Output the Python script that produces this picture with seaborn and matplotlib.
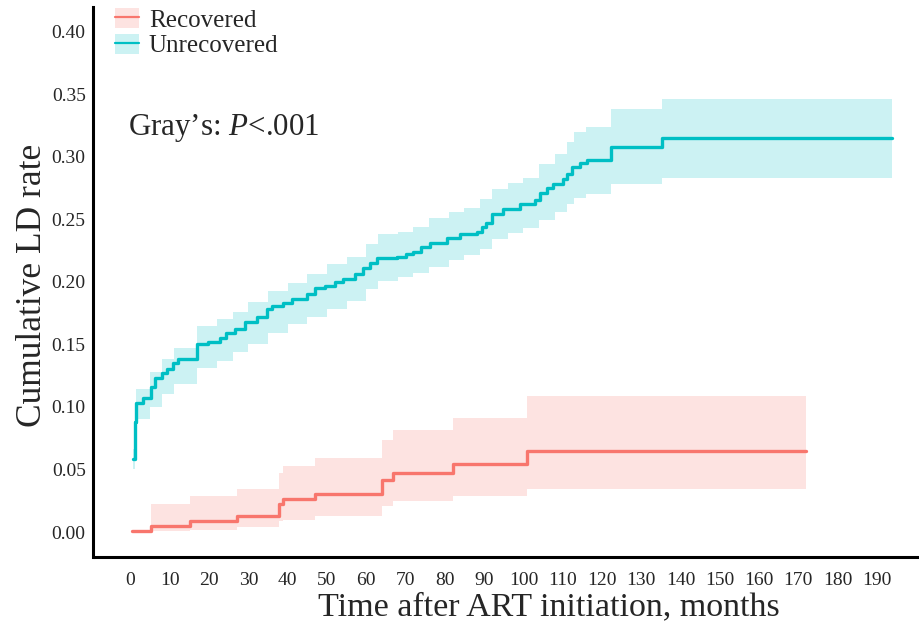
import matplotlib.pyplot as plt
import matplotlib as mpl
from matplotlib.patches import Patch
from matplotlib.lines import Line2D
import pandas as pd
import numpy as np
import seaborn as sns

# cumulative incidence, recovered group
rec_time = [0.25, 5.1, 15.1, 27.0, 37.8, 38.7, 46.9, 63.9, 66.9, 82.0, 101.0, 172.0]
rec_rate = [0.001, 0.005, 0.009, 0.013, 0.0226, 0.0264, 0.0306, 0.0418, 0.0475, 0.054, 0.0645, 0.0645]
rec_lo = [0.001, 0.0005, 0.0018, 0.004, 0.0085, 0.0098, 0.013, 0.0205, 0.0245, 0.0285, 0.0344, 0.0344]
rec_hi = [0.001, 0.0226, 0.0285, 0.0344, 0.047, 0.053, 0.0592, 0.0738, 0.0812, 0.0911, 0.1084, 0.1084]

# cumulative incidence, unrecovered group
unr_time = [0.7, 1.0, 1.5, 3.2, 5.3, 6.2, 7.9, 9.2, 10.9, 12.1, 16.8, 19.8, 22.7, 24.4,
            26.6, 29.1, 32.1, 34.6, 35.9, 38.9, 41.0, 44.8, 47.0, 49.5, 52.0, 54.1,
            57.0, 59.2, 61.0, 62.6, 67.7, 70.0, 71.9, 74.0, 76.2, 80.5, 83.8, 88.1,
            89.5, 90.6, 91.9, 94.9, 99.1, 102.9, 104.2, 106.0, 107.6, 110.1, 111.0,
            112.3, 114.4, 116.1, 122.4, 135.2, 193.7]
unr_rate = [0.058, 0.088, 0.103, 0.107, 0.116, 0.123, 0.127, 0.130, 0.135, 0.138, 0.150,
            0.152, 0.155, 0.159, 0.162, 0.168, 0.172, 0.178, 0.181, 0.183, 0.186, 0.190,
            0.195, 0.197, 0.200, 0.202, 0.206, 0.211, 0.215, 0.219, 0.220, 0.222, 0.224,
            0.228, 0.231, 0.235, 0.238, 0.240, 0.244, 0.247, 0.254, 0.258, 0.262, 0.265,
            0.271, 0.275, 0.278, 0.282, 0.286, 0.292, 0.295, 0.297, 0.308, 0.315, 0.315]
unr_band_time = [0.7, 1.0, 1.5, 5.0, 8.0, 11.0, 16.8, 22.0, 26.0, 30.0, 35.0, 40.0, 45.0,
                 50.0, 55.0, 60.0, 63.0, 68.0, 72.0, 76.0, 81.0, 85.0, 89.0, 92.0, 96.0,
                 100.0, 104.0, 108.0, 111.0, 113.0, 116.0, 122.4, 135.2, 193.7]
unr_lo = [0.050, 0.076, 0.090, 0.100, 0.110, 0.118, 0.131, 0.137, 0.144, 0.150, 0.159,
          0.166, 0.172, 0.178, 0.185, 0.194, 0.201, 0.204, 0.207, 0.212, 0.217, 0.221,
          0.226, 0.234, 0.239, 0.243, 0.249, 0.256, 0.262, 0.267, 0.270, 0.278, 0.283, 0.283]
unr_hi = [0.066, 0.100, 0.114, 0.128, 0.138, 0.147, 0.165, 0.170, 0.176, 0.184, 0.193,
          0.199, 0.206, 0.214, 0.220, 0.230, 0.238, 0.240, 0.244, 0.251, 0.256, 0.259,
          0.266, 0.274, 0.279, 0.283, 0.294, 0.302, 0.312, 0.320, 0.324, 0.338, 0.346, 0.346]

groups = ['Recovered', 'Unrecovered']
colors = {'Recovered': '#F8766D', 'Unrecovered': '#00BFC4'}
x_ticks = list(range(0, 200, 10))
y_ticks = [0.0, 0.05, 0.10, 0.15, 0.20, 0.25, 0.30, 0.35, 0.40]

df = pd.concat([
    pd.DataFrame({'time': rec_time, 'rate': rec_rate, 'group': 'Recovered'}),
    pd.DataFrame({'time': unr_time, 'rate': unr_rate, 'group': 'Unrecovered'}),
])

sns.set_style('white')
plt.rcParams['font.family'] = ['Liberation Serif', 'DejaVu Serif']
plt.rcParams['mathtext.fontset'] = 'custom'
plt.rcParams['mathtext.it'] = 'Liberation Serif:italic'
plt.rcParams['mathtext.rm'] = 'Liberation Serif'

fig = plt.figure(figsize=(9.19, 6.28), dpi=100)
ax = fig.add_axes([0.1015, 0.1135, 0.8985, 0.8755])

ax.fill_between(rec_time, rec_lo, rec_hi, step='post', color=colors['Recovered'], alpha=0.2, lw=0)
ax.fill_between(unr_band_time, unr_lo, unr_hi, step='post', color=colors['Unrecovered'], alpha=0.2, lw=0)
sns.lineplot(data=df, x='time', y='rate', hue='group', palette=colors, estimator=None,
             drawstyle='steps-post', linewidth=2.4, legend=False, ax=ax)

ax.set_xlim(-9.5, 200.7)
ax.set_ylim(-0.0197, 0.4196)
ax.set_xticks(x_ticks)
ax.set_yticks(y_ticks)
ax.set_yticklabels(['%.2f' % v for v in y_ticks])

for s in ['top', 'right']:
    ax.spines[s].set_visible(False)
ax.spines['left'].set_linewidth(2.2)
ax.spines['left'].set_color('black')
# ticks sit a little below the axis line
ax.spines['bottom'].set_position(('outward', 2.5))
ax.spines['bottom'].set_visible(False)
ax.plot([0, 1], [0, 0], transform=ax.transAxes, color='black', lw=2.2, clip_on=False,
        solid_capstyle='butt')

ax.tick_params(axis='y', direction='out', length=4.5, width=1.6, color='black', labelsize=14, pad=1)
ax.tick_params(axis='x', direction='out', length=4.5, width=1.6, color='black', labelsize=14, pad=4)

ax.set_xlabel('Time after ART initiation, months', fontsize=24.5)
ax.xaxis.set_label_coords(0.552, -0.0915)
ax.xaxis.label.set_va('center')
ax.set_ylabel('Cumulative LD rate', fontsize=25.5)
ax.yaxis.set_label_coords(-0.074, 0.493)
ax.yaxis.label.set_va('center')

ax.text(-0.7, 0.323, 'Gray\u2019s: $\\mathit{P}$<.001', fontsize=22.3, va='center', ha='left')

handles = [(Patch(facecolor=colors[g], alpha=0.2, lw=0), Line2D([], [], color=colors[g], lw=1.6))
           for g in groups]
ax.legend(handles, groups, loc='upper left', bbox_to_anchor=(115 / 919, 1 - 8 / 628),
          bbox_transform=fig.transFigure, frameon=False, fontsize=18, handlelength=0.95,
          handleheight=0.85, handletextpad=0.4, labelspacing=0.08, borderpad=0, borderaxespad=0)

plt.savefig('out.png', dpi=100)
